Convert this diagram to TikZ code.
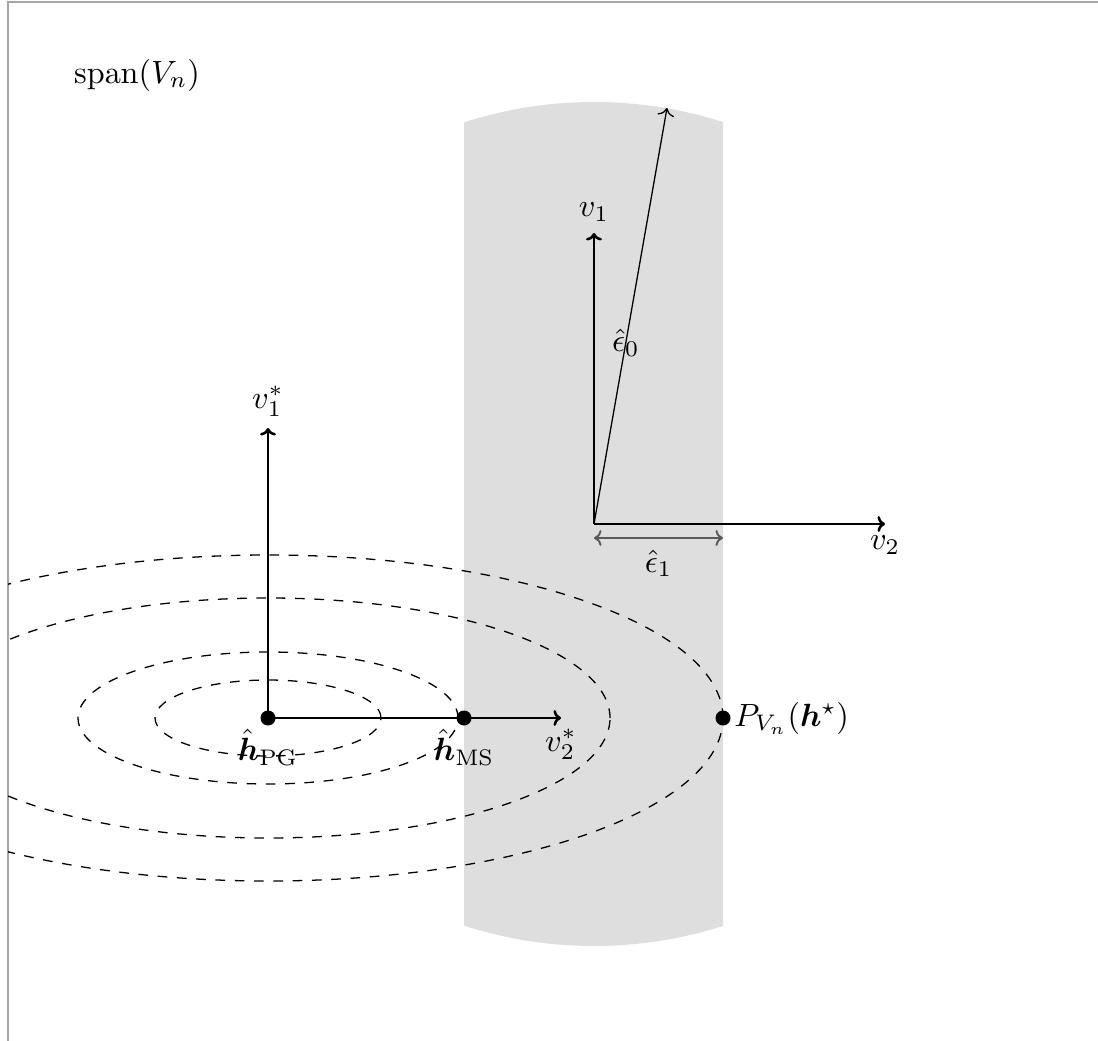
\documentclass[tikz,border=0pt]{standalone}
\usepackage{amsmath,amssymb,bm}
\usetikzlibrary{arrows.meta,calc,positioning}
\definecolor{StripGray}{RGB}{222,222,222}
\definecolor{FrameGray}{RGB}{165,165,165}
\definecolor{ArrowGray}{RGB}{90,90,90}

\begin{document}
\begin{tikzpicture}[x=0.010929cm,y=0.010929cm,axis/.style={thick,-{To[scale=0.7]}}]
      \useasboundingbox (0,0) rectangle (1098,1040);
      \coordinate (O) at (594,516);
      \coordinate (C) at (268,322);
      \coordinate (v1tip) at (594,807);
      \coordinate (v2tip) at (885,516);
      \coordinate (e0tip) at (667,932);
      \coordinate (e1a) at (594,502);
      \coordinate (e1b) at (723,502);
      \coordinate (w1tip) at (268,612);
      \coordinate (w2tip) at (561,322);
      \coordinate (ms) at (464,322);
      \coordinate (proj) at (723,322);
      % shaded band
      \begin{scope}
        \clip (464,0) rectangle (723,1040);
        \fill[StripGray] (O) circle[radius=422];
      \end{scope}
      \draw[FrameGray] (8,-20) |- (1120,1038);
      \node (span) at (137,965) {$\mathrm{span}(V_n)$};
      % level sets
      \begin{scope}
        \clip (8,0) rectangle (1098,1038);
        \foreach \rx/\ry in {113/38,190/66,342/120,455/163}
          \draw[dashed] (C) ellipse[x radius=\rx,y radius=\ry];
      \end{scope}
      \draw[axis] (O) -- (v1tip);
      \draw[axis] (O) -- (v2tip);
      \node[above] (v1) at (v1tip) {$v_1$};
      \node[below] (v2) at (v2tip) {$v_2$};
      \draw[->] (O) -- (e0tip) node[pos=0.435] (e0) {$\hat{\epsilon}_0$};
      \draw[{To[scale=0.8]}-{To[scale=0.8]},semithick,ArrowGray] (e1a) -- (e1b) node[midway,below,black] (e1) {$\hat{\epsilon}_1$};
      \draw[axis] (C) -- (w1tip);
      \draw[axis] (C) -- (w2tip);
      \node[above] (w1) at (w1tip) {$v_1^*$};
      \node[below] (w2) at (w2tip) {$v_2^*$};
      \fill (C) circle[radius=7.5];
      \fill (ms) circle[radius=7.5];
      \fill (proj) circle[radius=7.5];
      \node[below] (hpg) at (C) {$\hat{\bm h}_{\mathrm{PG}}$};
      \node[below] (hms) at (ms) {$\hat{\bm h}_{\mathrm{MS}}$};
      \node[right] (pv) at (proj) {$P_{V_n}(\bm h^\star)$};
    \end{tikzpicture}
\end{document}
